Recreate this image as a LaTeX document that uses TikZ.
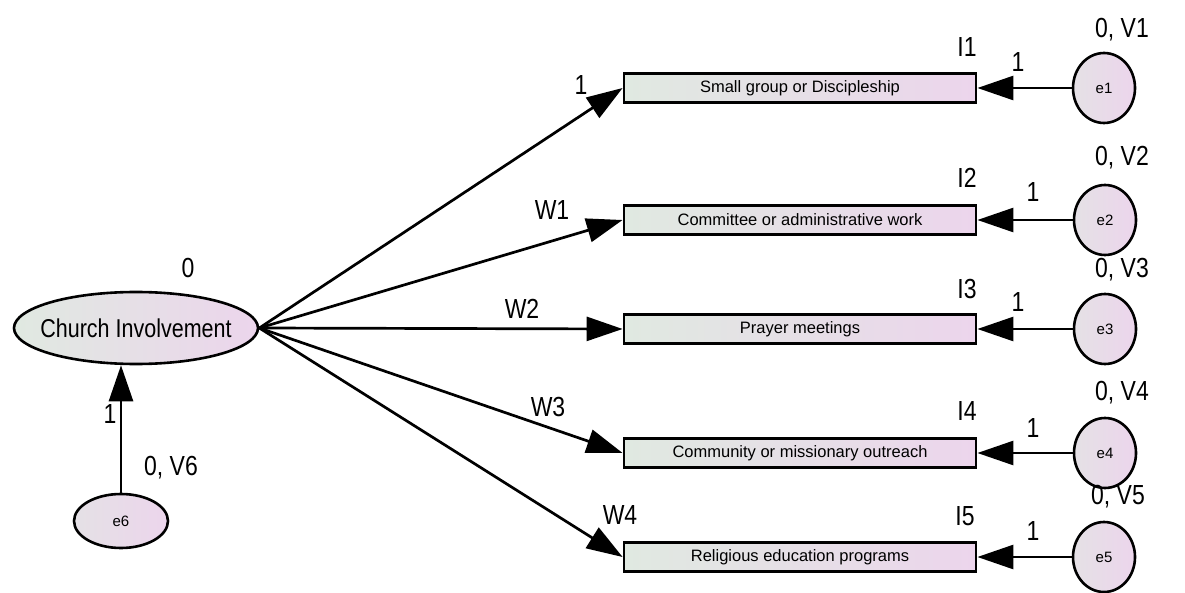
\documentclass[tikz,border=0pt]{standalone}
\usepackage{fontspec}
\setmainfont{Liberation Sans}
\usetikzlibrary{shapes.geometric,arrows.meta}
\definecolor{gl}{RGB}{224,233,225}
\definecolor{pk}{RGB}{236,213,236}
\newcommand{\tl}[1]{\scalebox{1}[1.2]{#1}}
\begin{document}
\begin{tikzpicture}[x=1pt,y=-1pt,
  obs/.style={rectangle,draw=black,line width=2.8pt,minimum width=352pt,minimum height=29pt,inner sep=0pt,
    left color=gl,right color=pk,font=\fontsize{16.5}{16.5}\selectfont},
  err/.style={ellipse,draw=black,line width=2.6pt,minimum width=62pt,minimum height=70pt,inner sep=0pt,
    left color=gl!60!pk,right color=pk,font=\fontsize{15}{15}\selectfont},
  lat/.style={ellipse,draw=black,line width=2.6pt,minimum width=244pt,minimum height=72pt,inner sep=0pt,
    left color=gl,right color=pk,font=\fontsize{21.5}{21.5}\selectfont},
  lab/.style={inner sep=0pt,font=\fontsize{23}{23}\selectfont},
  arr/.style={line width=2.7pt,-{Triangle[length=36pt,width=24pt]}}]
\useasboundingbox (0,0) rectangle (1185,593);
% observed boxes
\node[obs] (b1) at (800,88) {Small group or Discipleship};
\node[obs] (b2) at (800,220) {Committee or administrative work};
\node[obs] (b3) at (800,329) {Prayer meetings};
\node[obs] (b4) at (800,453) {Community or missionary outreach};
\node[obs] (b5) at (800,557) {Religious education programs};
% error terms
\node[err] (e1) at (1104,88) {e1};
\node[err] (e2) at (1105,220) {e2};
\node[err] (e3) at (1105,329) {e3};
\node[err] (e4) at (1105,453) {e4};
\node[err] (e5) at (1104,557) {e5};
% latent
\node[lat] (ci) at (136,328) {\makebox[0pt]{\tl{Church Involvement}}};
\node[err,minimum width=94pt,minimum height=54pt] (e6) at (121,521) {e6};
% connectors
\draw[arr] (ci.east) -- (b1.west);
\draw[arr] (ci.east) -- (b2.west);
\draw[arr] (ci.east) -- (b3.west);
\draw[arr] (ci.east) -- (b4.west);
\draw[arr] (ci.east) -- (b5.west);
\draw[arr] (e1.west) -- (b1.east);
\draw[arr] (e2.west) -- (b2.east);
\draw[arr] (e3.west) -- (b3.east);
\draw[arr] (e4.west) -- (b4.east);
\draw[arr] (e5.west) -- (b5.east);
\draw[arr] (e6.north) -- (e6.north |- ci.south);
% labels
\node[lab] (l0) at (188,268) {\tl{0}};
\node[lab] (l6) at (171,468) {\tl{0, V6}};
\node[lab] (l61) at (110,414) {\tl{1}};
\node[lab] (p1) at (581,85) {\tl{1}};
\node[lab] (w1) at (552,210) {\tl{W1}};
\node[lab] (w2) at (522,309) {\tl{W2}};
\node[lab] (w3) at (548,407) {\tl{W3}};
\node[lab] (w4) at (620,515) {\tl{W4}};
\node[lab] (i1) at (967,47) {\tl{I1}};
\node[lab] (i2) at (967,178) {\tl{I2}};
\node[lab] (i3) at (967,289) {\tl{I3}};
\node[lab] (i4) at (967,411) {\tl{I4}};
\node[lab] (i5) at (965,516) {\tl{I5}};
\node[lab] (o1) at (1018,62) {\tl{1}};
\node[lab] (o2) at (1033,192) {\tl{1}};
\node[lab] (o3) at (1018,302) {\tl{1}};
\node[lab] (o4) at (1033,428) {\tl{1}};
\node[lab] (o5) at (1033,531) {\tl{1}};
\node[lab] (v1) at (1122,30) {\tl{0, V1}};
\node[lab] (v2) at (1122,158) {\tl{0, V2}};
\node[lab] (v3) at (1122,270) {\tl{0, V3}};
\node[lab] (v4) at (1122,393) {\tl{0, V4}};
\node[lab] (v5) at (1118,497) {\tl{0, V5}};
\end{tikzpicture}
\end{document}
